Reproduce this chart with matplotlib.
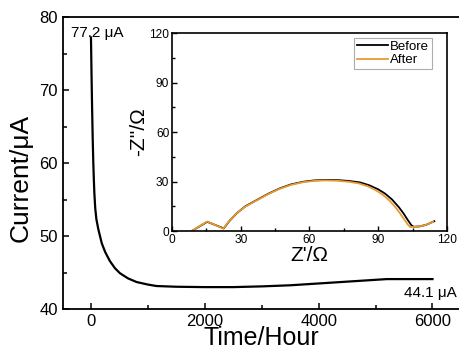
import matplotlib
matplotlib.use("Agg")
import matplotlib.pyplot as plt
from matplotlib.ticker import MultipleLocator

plt.rcParams['font.family'] = ['Liberation Sans', 'DejaVu Sans']

# Main curve: current vs time
time_h = [0, 10, 20, 30, 40, 50, 60, 75, 95, 130, 190, 250, 330, 420, 510, 650, 800,
          1000, 1150, 1500, 2000, 2500, 3000, 3500, 4000, 4500, 5000, 5200, 5500, 6000]
current_uA = [77.2, 72.0, 67.5, 63.5, 60.3, 57.8, 55.8, 53.8, 52.3, 50.9, 49.0, 47.8, 46.6, 45.6, 44.9,
              44.2, 43.7, 43.35, 43.15, 43.05, 43.0, 43.0, 43.1, 43.25, 43.5, 43.75, 44.0, 44.1, 44.1, 44.1]

# Inset: Nyquist plots
z_re_before = [8.6, 15.4, 22.6, 25, 28.2, 32, 37, 42, 47.1, 52, 57.3, 62, 67, 72, 77, 82, 86, 90,
               93, 96, 99, 101, 103, 104.5, 105.5, 108, 111, 114.5]
z_im_before = [0, 5.6, 1.6, 6, 10.7, 15, 18.8, 22.6, 25.9, 28.3, 29.9, 30.7, 31.0, 30.9, 30.4, 29.5,
               27.8, 25.3, 22.7, 19.2, 14.5, 10.8, 6.5, 3.5, 2.6, 2.8, 3.8, 6.0]
z_re_after = [8.6, 15.4, 22.4, 24.8, 28, 32, 37, 42, 47, 52, 57, 62, 67, 72, 77, 81.5, 85.5, 89,
              92, 95, 97.5, 99.5, 101.5, 103, 104, 107, 110.5, 114]
z_im_after = [0, 5.8, 1.4, 5.8, 10.5, 14.8, 18.6, 22.4, 25.6, 28.0, 29.6, 30.4, 30.7, 30.5, 29.9, 28.9,
              27.1, 24.7, 22.0, 18.4, 14.5, 10.8, 6.8, 3.8, 2.4, 2.6, 3.6, 5.6]

start_label = "77.2 μA"
end_label = "44.1 μA"

fig = plt.figure(figsize=(4.59, 3.56), dpi=100)
ax = fig.add_axes([0.1362, 0.132, 0.868, 0.820])
ax.plot(time_h, current_uA, color='black', lw=1.6)
ax.set_xlim(-500, 6500)
ax.set_ylim(40, 80)
ax.xaxis.set_major_locator(MultipleLocator(2000))
ax.xaxis.set_minor_locator(MultipleLocator(1000))
ax.yaxis.set_major_locator(MultipleLocator(10))
ax.yaxis.set_minor_locator(MultipleLocator(5))
ax.tick_params(which='both', direction='in', top=False, right=False, labelsize=12, width=1.1)
ax.tick_params(which='major', length=4.5)
ax.tick_params(which='minor', length=3)
for s in ax.spines.values():
    s.set_linewidth(1.3)
ax.set_xlabel("Time/Hour", fontsize=18, labelpad=-2)
ax.set_ylabel("Current/μA", fontsize=19)
ax.yaxis.set_label_coords(-0.074, 0.449)
ax.text(-350, 77.8, start_label, fontsize=11, ha='left', va='center')
ax.text(6430, 42.2, end_label, fontsize=11, ha='right', va='center')

ins = fig.add_axes([0.3747, 0.351, 0.599, 0.556])
ins.plot(z_re_before, z_im_before, color='black', lw=1.3, label='Before')
ins.plot(z_re_after, z_im_after, color='#E89B30', lw=1.3, label='After')
ins.set_xlim(0, 120)
ins.set_ylim(0, 120)
ins.xaxis.set_major_locator(MultipleLocator(30))
ins.xaxis.set_minor_locator(MultipleLocator(15))
ins.yaxis.set_major_locator(MultipleLocator(30))
ins.yaxis.set_minor_locator(MultipleLocator(15))
ins.tick_params(which='both', direction='in', top=False, right=False, labelsize=8.6, width=1.0, pad=2)
ins.tick_params(which='major', length=3.5)
ins.tick_params(which='minor', length=2.5)
for s in ins.spines.values():
    s.set_linewidth(1.2)
ins.set_xlabel("Z'/Ω", fontsize=15, labelpad=0)
ins.set_ylabel("-Z''/Ω", fontsize=15, labelpad=1)
leg = ins.legend(loc='upper right', fontsize=9.5, frameon=True, fancybox=False,
                 handlelength=2.35, handletextpad=0.2, borderpad=0.2, labelspacing=0.1,
                 borderaxespad=0.0, bbox_to_anchor=(0.945, 0.975))
leg.get_frame().set_edgecolor('#999999')
leg.get_frame().set_linewidth(0.8)

fig.savefig("out.png", dpi=100)
